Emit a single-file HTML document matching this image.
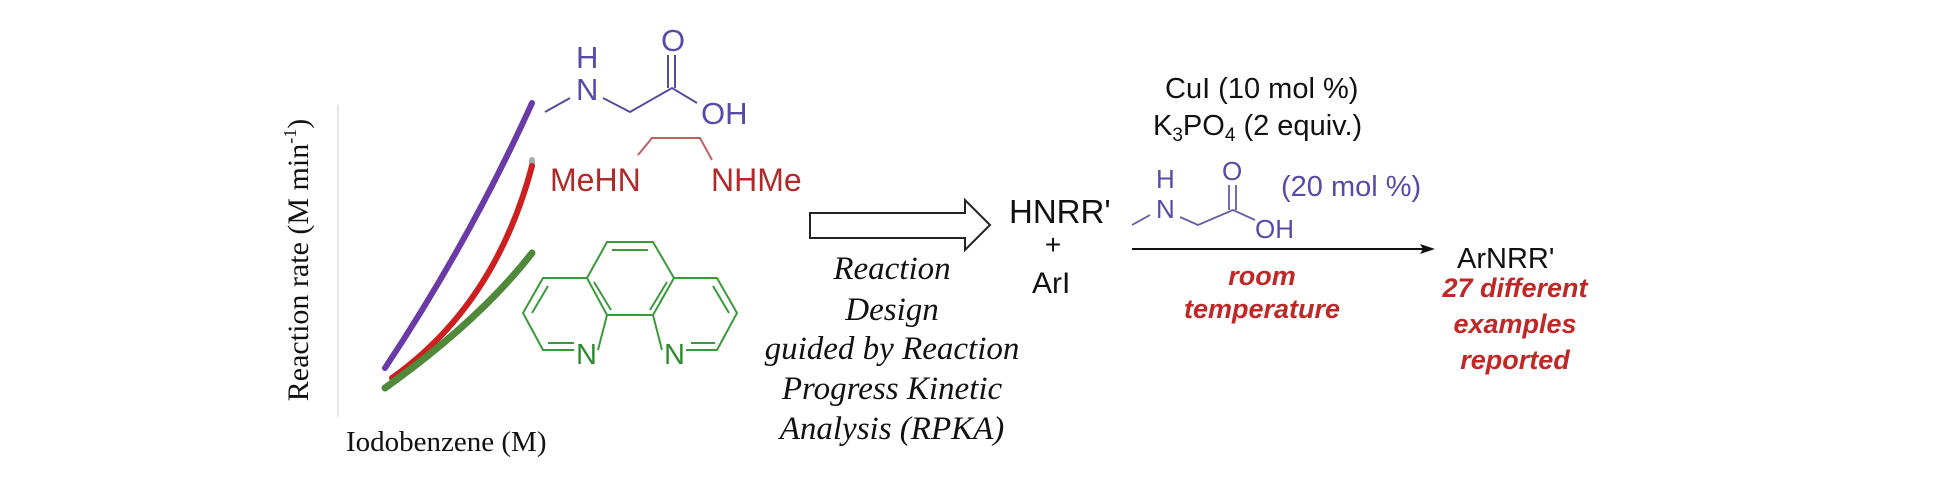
<!DOCTYPE html>
<html><head><meta charset="utf-8"><style>
html,body{margin:0;padding:0;background:#fff;}
svg{display:block}
.s{font-family:"Liberation Sans",sans-serif}
.r{font-family:"Liberation Serif",serif}
</style></head><body>
<svg width="1934" height="496" viewBox="0 0 1934 496" xmlns="http://www.w3.org/2000/svg">
<!-- axis -->
<line x1="338" y1="105" x2="338" y2="417" stroke="#ddd" stroke-width="1.5"/>
<text class="r" x="0" y="0" font-size="30" fill="#111" text-anchor="middle" transform="translate(308,260) rotate(-90)">Reaction rate (M min<tspan font-size="18" dy="-12">-1</tspan><tspan dy="12">)</tspan></text>
<text class="r" x="346" y="451" font-size="29" fill="#111">Iodobenzene (M)</text>
<!-- curves -->
<path d="M385,368 Q470,240 532,103" fill="none" stroke="#6a3aa8" stroke-width="6" stroke-linecap="round"/>
<path d="M532,160 l0,6" stroke="#aaa" stroke-width="6" stroke-linecap="round"/>
<path d="M392,378 Q495,305 532,166" fill="none" stroke="#cc2020" stroke-width="6" stroke-linecap="round"/>
<path d="M385,388 Q480,320 532,253" fill="none" stroke="#4f8a3a" stroke-width="7" stroke-linecap="round"/>
<!-- sarcosine top -->
<g stroke="#5a4a9a" stroke-width="2" fill="none">
<path d="M545,112 L570,98"/><path d="M603,98 L630,112 L672,88 L697,103"/>
<path d="M668,88 L668,55 M675,88 L675,55"/>
</g>
<g class="s" fill="#5a4aa8" font-size="31">
<text x="576" y="68">H</text><text x="576" y="100">N</text><text x="661" y="51">O</text><text x="701" y="124">OH</text>
</g>
<!-- diamine -->
<path d="M638,155 L652,138 L700,138 L712,160" stroke="#c06060" stroke-width="2" fill="none"/>
<g class="s" fill="#b02a2a" font-size="32"><text x="550" y="191">MeHN</text><text x="711" y="191">NHMe</text></g>
<!-- phenanthroline -->
<g stroke="#3a9a3a" stroke-width="2" fill="none">
<path d="M587,278 L543,278 L523,313 L543,350 L574,350 M598,350 L607,315 L587,278 L607,242 L653,242 L674,278 L653,315 L607,315 M653,315 L662,350 M686,350 L717,350 L737,313 L717,278 L674,278"/>
<path d="M548,286 L532,313 M548,343 L574,343 M612,250 L648,250 M594,282 L611,310 M667,282 L650,310 M691,343 L715,343 M729,313 L713,286"/>
</g>
<g class="s" fill="#2f8a2f" font-size="29"><text x="576" y="364">N</text><text x="664" y="364">N</text></g>
<!-- hollow arrow -->
<path d="M810,213 L965,213 L965,200 L990,225 L965,250 L965,238 L810,238 Z" fill="#fff" stroke="#222" stroke-width="2"/>
<g class="r" font-style="italic" font-size="33" fill="#111" text-anchor="middle">
<text x="892" y="279">Reaction</text><text x="892" y="320">Design</text><text x="892" y="359">guided by Reaction</text><text x="892" y="399">Progress Kinetic</text><text x="892" y="439">Analysis (RPKA)</text>
</g>
<g class="s" fill="#111" font-size="33">
<text x="1009" y="223">HNRR'</text><text x="1053" y="254" text-anchor="middle" font-size="28">+</text><text x="1032" y="293" font-size="30">ArI</text>
<text x="1165" y="98" font-size="29">CuI (10 mol %)</text>
<text x="1153" y="135" font-size="29">K<tspan font-size="19" dy="6">3</tspan><tspan dy="-6">PO</tspan><tspan font-size="19" dy="6">4</tspan><tspan dy="-6"> (2 equiv.)</tspan></text>
<text x="1457" y="268" font-size="29">ArNRR'</text>
</g>
<!-- small sarcosine -->
<g stroke="#6a5aa8" stroke-width="1.8" fill="none">
<path d="M1132,225 L1150,215 M1180,217 L1198,225 L1233,210 L1255,220 M1229,210 L1229,185 M1236,210 L1236,185"/>
</g>
<g class="s" fill="#5a4aa8" font-size="26">
<text x="1156" y="188">H</text><text x="1156" y="218">N</text><text x="1222" y="180">O</text><text x="1255" y="238">OH</text>
<text x="1281" y="196" font-size="29">(20 mol %)</text>
</g>
<line x1="1132" y1="249" x2="1425" y2="249" stroke="#111" stroke-width="2"/>
<path d="M1435,249 L1420,244 L1423,249 L1420,254 Z" fill="#111"/>
<g class="s" font-weight="bold" font-style="italic" fill="#c02828" font-size="27" text-anchor="middle">
<text x="1262" y="285">room</text><text x="1262" y="318">temperature</text>
<text x="1515" y="297">27 different</text><text x="1515" y="333">examples</text><text x="1515" y="369">reported</text>
</g>
</svg>
</body></html>
